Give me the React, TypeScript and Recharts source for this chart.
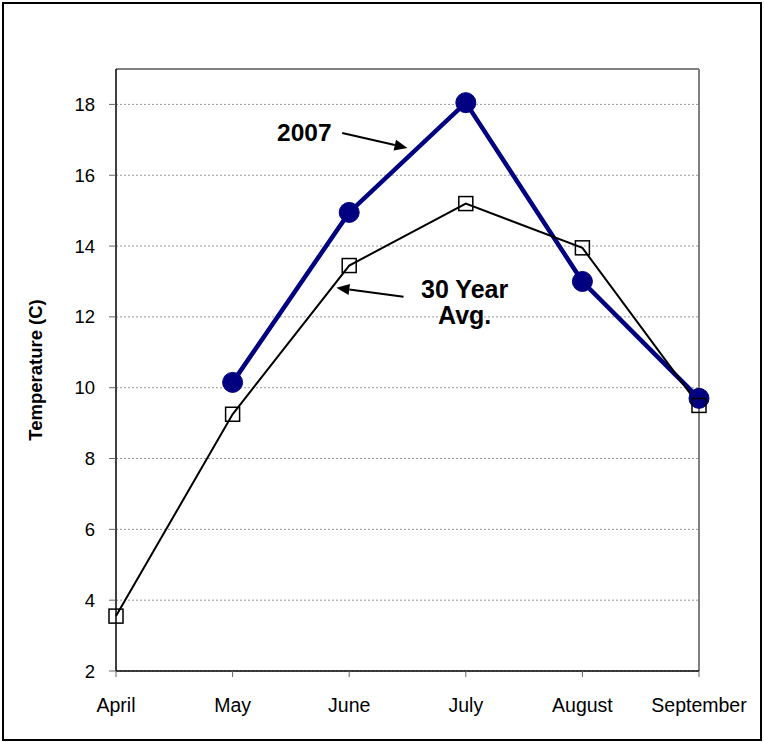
import React from "react";
import { LineChart, Line, XAxis, YAxis, CartesianGrid, ReferenceLine, ReferenceDot } from "recharts";

// categories and values
const months = ["April", "May", "June", "July", "August", "September"];
const temp2007: (number | null)[] = [null, 10.15, 14.95, 18.05, 13.0, 9.7];
const avg30yr = [3.55, 9.25, 13.45, 15.2, 13.95, 9.5];
const yTicks = [2, 4, 6, 8, 10, 12, 14, 16, 18];
const xTicks = [0, 1, 2, 3, 4, 5];

const data = months.map((m, i) => ({ idx: i, month: m, y2007: temp2007[i], avg: avg30yr[i] }));

const FONT = "Arial, 'Liberation Sans', sans-serif";

// line with a filled arrowhead at the (x2, y2) end
function Arrow(props: any) {
    const { x1, y1, x2, y2 } = props;
    const ang = Math.atan2(y2 - y1, x2 - x1);
    const len = 13;
    const half = 5.5;
    const bx = x2 - len * Math.cos(ang);
    const by = y2 - len * Math.sin(ang);
    const px = -Math.sin(ang) * half;
    const py = Math.cos(ang) * half;
    return (
        <g>
            <line x1={x1} y1={y1} x2={bx} y2={by} stroke="#000" strokeWidth={2} />
            <polygon points={`${x2},${y2} ${bx + px},${by + py} ${bx - px},${by - py}`} fill="#000" />
        </g>
    );
}

function SquareDot(props: any) {
    const { cx, cy, index } = props;
    if (cx == null || cy == null) return <g key={index} />;
    return <rect key={index} x={cx - 7} y={cy - 7} width={14} height={14} fill="none" stroke="#000" strokeWidth={1.5} />;
}

export default function App() {
    return (
        <div style={{ position: "absolute", left: 0, top: 0, width: 764, height: 742, background: "#fff" }}>
            <div
                style={{
                    position: "absolute",
                    left: 2,
                    top: 2,
                    width: 760,
                    height: 739,
                    border: "2px solid #000",
                    boxSizing: "border-box",
                }}
            />
            <div style={{ position: "absolute", left: 0, top: 0 }}>
                <LineChart
                    width={764}
                    height={742}
                    data={data}
                    margin={{ top: 69, right: 65, bottom: 31, left: 56 }}
                    style={{ fontFamily: FONT }}
                >
                    <CartesianGrid vertical={false} stroke="#999" strokeDasharray="2 2" />
                    <XAxis
                        dataKey="idx"
                        type="number"
                        domain={[0, 5]}
                        ticks={xTicks}
                        tickFormatter={(i: number) => months[i]}
                        height={40}
                        axisLine={{ stroke: "#000", strokeWidth: 1.5 }}
                        tickLine={{ stroke: "#666" }}
                        tickSize={6}
                        tickMargin={21}
                        tick={{ fill: "#000", fontSize: 19.5, fontFamily: FONT }}
                    />
                    <YAxis
                        type="number"
                        domain={[2, 19]}
                        ticks={yTicks}
                        width={60}
                        axisLine={{ stroke: "#000", strokeWidth: 1.5 }}
                        tickLine={{ stroke: "#666" }}
                        tickSize={7}
                        tickMargin={14}
                        tick={{ fill: "#000", fontSize: 18.5, fontFamily: FONT }}
                        label={{
                            content: ({ viewBox }: any) => {
                                const x = viewBox.x - 21;
                                const y = viewBox.y + viewBox.height / 2;
                                return (
                                    <text
                                        x={x}
                                        y={y}
                                        transform={`rotate(-90, ${x}, ${y})`}
                                        textAnchor="middle"
                                        dominantBaseline="central"
                                        fontSize={18.5}
                                        fontWeight="bold"
                                        fontFamily={FONT}
                                        fill="#000"
                                    >
                                        Temperature (C)
                                    </text>
                                );
                            },
                        }}
                    />
                    {/* gray top and right frame of the plot area */}
                    <ReferenceLine y={19} stroke="#808080" strokeWidth={2} />
                    <ReferenceLine x={5} stroke="#808080" strokeWidth={2} />

                    <Line
                        dataKey="y2007"
                        stroke="#000080"
                        strokeWidth={4.5}
                        dot={{ r: 10, fill: "#000080", stroke: "#000080", strokeWidth: 1 }}
                        isAnimationActive={false}
                    />
                    <Line
                        dataKey="avg"
                        stroke="#000"
                        strokeWidth={2}
                        dot={<SquareDot />}
                        isAnimationActive={false}
                    />

                    {/* annotations */}
                    <ReferenceLine
                        segment={[{ x: 1.94, y: 17.19 }, { x: 2.5, y: 16.77 }]}
                        shape={<Arrow />}
                    />
                    <ReferenceLine
                        segment={[{ x: 2.466, y: 12.57 }, { x: 1.89, y: 12.82 }]}
                        shape={<Arrow />}
                    />
                    <ReferenceDot
                        x={1.615}
                        y={17.22}
                        r={0}
                        shape={(p: any) => (
                            <text x={p.cx} y={p.cy} dy="0.36em" textAnchor="middle" fontSize={24.5} fontWeight="bold" fontFamily={FONT} fill="#000">
                                2007
                            </text>
                        )}
                    />
                    <ReferenceDot
                        x={2.99}
                        y={12.43}
                        r={0}
                        shape={(p: any) => (
                            <text textAnchor="middle" fontSize={25} fontWeight="bold" fontFamily={FONT} fill="#000">
                                <tspan x={p.cx} y={p.cy - 13} dy="0.36em">30 Year</tspan>
                                <tspan x={p.cx} y={p.cy + 13} dy="0.36em">Avg.</tspan>
                            </text>
                        )}
                    />
                </LineChart>
            </div>
        </div>
    );
}
